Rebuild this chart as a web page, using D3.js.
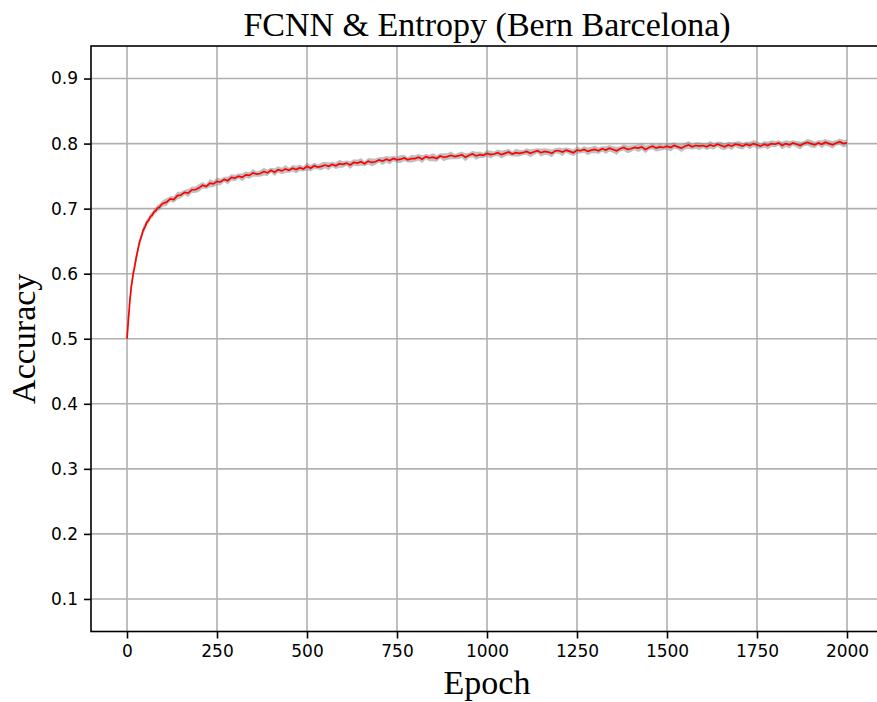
<!DOCTYPE html>
<html>
<head>
<meta charset="utf-8">
<script src="https://cdn.jsdelivr.net/npm/d3@7"></script>
<style>
  body { margin: 0; background: #fff; }
  svg { display: block; }
</style>
</head>
<body>
<svg id="chart" width="877" height="702"></svg>
<script>
// tick labels
let xTicks = [0, 250, 500, 750, 1000, 1250, 1500, 1750, 2000];
let yTicks = [0.1, 0.2, 0.3, 0.4, 0.5, 0.6, 0.7, 0.8, 0.9];

// epochs (dense at the start, then every 10)
let epochs = [0, 2, 4, 6, 8, 10, 12, 15, 18, 20, 25, 30, 35, 40, 45, 50, 55, 60, 65, 70, 75, 80, 85, 90, 95]
    .concat(d3.range(100, 2001, 10));

// mean accuracy
let accuracy = [
    0.500, 0.515, 0.531, 0.544, 0.559, 0.569, 0.581, 0.591, 0.603, 0.607,
    0.623, 0.636, 0.649, 0.657, 0.667, 0.672, 0.679, 0.682, 0.688, 0.690,
    0.695, 0.697, 0.701, 0.702, 0.706,
    0.708, 0.710, 0.715, 0.714, 0.720, 0.721, 0.725, 0.724, 0.729, 0.729,
    0.732, 0.736, 0.734, 0.739, 0.738, 0.742, 0.741, 0.745, 0.743, 0.748,
    0.747, 0.750, 0.748, 0.752, 0.751, 0.755, 0.753, 0.754, 0.757, 0.755,
    0.759, 0.756, 0.760, 0.758, 0.761, 0.759, 0.762, 0.760, 0.763, 0.761,
    0.765, 0.762, 0.766, 0.764, 0.765, 0.767, 0.765, 0.768, 0.766, 0.769,
    0.768, 0.770, 0.767, 0.771, 0.770, 0.772, 0.769, 0.773, 0.771, 0.772,
    0.775, 0.773, 0.776, 0.774, 0.777, 0.775, 0.776, 0.778, 0.775, 0.777,
    0.777, 0.779, 0.776, 0.780, 0.778, 0.779, 0.777, 0.781, 0.779, 0.780,
    0.782, 0.780, 0.781, 0.783, 0.779, 0.782, 0.784, 0.781, 0.783, 0.782,
    0.785, 0.783, 0.784, 0.786, 0.783, 0.785, 0.787, 0.784, 0.786, 0.785,
    0.786, 0.788, 0.785, 0.787, 0.789, 0.786, 0.788, 0.787, 0.785, 0.789,
    0.789, 0.787, 0.790, 0.788, 0.786, 0.790, 0.789, 0.791, 0.788, 0.790,
    0.791, 0.789, 0.792, 0.790, 0.793, 0.791, 0.789, 0.792, 0.794, 0.791,
    0.792, 0.794, 0.793, 0.795, 0.791, 0.794, 0.796, 0.793, 0.795, 0.794,
    0.796, 0.794, 0.797, 0.795, 0.793, 0.796, 0.798, 0.795, 0.797, 0.796,
    0.797, 0.795, 0.798, 0.796, 0.799, 0.797, 0.795, 0.798, 0.796, 0.799,
    0.798, 0.796, 0.799, 0.797, 0.800, 0.798, 0.796, 0.799, 0.797, 0.800,
    0.799, 0.801, 0.797, 0.800, 0.798, 0.801, 0.799, 0.797, 0.800, 0.802,
    0.800, 0.798, 0.801, 0.799, 0.802, 0.800, 0.798, 0.801, 0.803, 0.800, 0.801
];

// spread of the runs (grey band)
let spread = [
    0.004, 0.006, 0.007, 0.007, 0.008, 0.008, 0.008, 0.008, 0.007, 0.007,
    0.007, 0.006, 0.006, 0.006, 0.006, 0.006, 0.005, 0.005, 0.005, 0.005,
    0.005, 0.005, 0.005, 0.005, 0.005,
    0.005, 0.006, 0.004, 0.005, 0.006, 0.005, 0.004, 0.006, 0.005, 0.005,
    0.006, 0.005, 0.004, 0.006, 0.005, 0.006, 0.005, 0.004, 0.006, 0.005,
    0.005, 0.004, 0.006, 0.005, 0.005, 0.006, 0.004, 0.005, 0.006, 0.005,
    0.004, 0.006, 0.005, 0.005, 0.006, 0.004, 0.005, 0.006, 0.005, 0.004,
    0.006, 0.005, 0.005, 0.004, 0.006, 0.005, 0.006, 0.004, 0.005, 0.006,
    0.005, 0.004, 0.006, 0.005, 0.005, 0.006, 0.004, 0.005, 0.006, 0.005,
    0.004, 0.006, 0.005, 0.006, 0.004, 0.005, 0.006, 0.005, 0.004, 0.006,
    0.005, 0.005, 0.006, 0.004, 0.005, 0.006, 0.005, 0.004, 0.006, 0.005,
    0.006, 0.004, 0.005, 0.005, 0.006, 0.004, 0.005, 0.006, 0.005, 0.004,
    0.005, 0.006, 0.004, 0.005, 0.006, 0.005, 0.005, 0.004, 0.006, 0.005,
    0.004, 0.005, 0.006, 0.005, 0.004, 0.006, 0.005, 0.005, 0.006, 0.004,
    0.005, 0.006, 0.004, 0.005, 0.005, 0.006, 0.004, 0.005, 0.006, 0.005,
    0.006, 0.005, 0.004, 0.006, 0.005, 0.005, 0.006, 0.004, 0.005, 0.006,
    0.005, 0.004, 0.006, 0.005, 0.006, 0.004, 0.005, 0.005, 0.006, 0.004,
    0.005, 0.006, 0.005, 0.004, 0.006, 0.005, 0.006, 0.004, 0.005, 0.006,
    0.004, 0.005, 0.006, 0.005, 0.004, 0.006, 0.005, 0.005, 0.006, 0.004,
    0.006, 0.005, 0.004, 0.006, 0.005, 0.006, 0.004, 0.005, 0.006, 0.005,
    0.005, 0.004, 0.006, 0.005, 0.006, 0.004, 0.005, 0.006, 0.004, 0.005,
    0.006, 0.005, 0.004, 0.006, 0.005, 0.005, 0.006, 0.004, 0.005, 0.006, 0.005
];

let data = epochs.map(function(e, i) {
    return { epoch: e, acc: accuracy[i], sd: spread[i] };
});

let svg = d3.select("#chart"),
    pLeft = 91,
    pTop = 46,
    pBottom = 631.5;

let xScale = d3.scaleLinear().domain([-100, 2099]).range([pLeft, pLeft + 2199 * 0.36]),
    yScale = d3.scaleLinear().domain([0.05, 0.95]).range([pBottom, pTop]);

let pRight = xScale.range()[1];

svg.append("clipPath").attr("id", "plot-area")
    .append("rect")
    .attr("x", pLeft).attr("y", pTop)
    .attr("width", pRight - pLeft).attr("height", pBottom - pTop);

// grid
let grid = svg.append("g").attr("stroke", "#b0b0b0").attr("stroke-width", 1.6);
grid.selectAll(".vx").data(xTicks).enter().append("line")
    .attr("x1", function(d) { return xScale(d); })
    .attr("x2", function(d) { return xScale(d); })
    .attr("y1", pTop).attr("y2", pBottom);
grid.selectAll(".hy").data(yTicks).enter().append("line")
    .attr("y1", function(d) { return yScale(d); })
    .attr("y2", function(d) { return yScale(d); })
    .attr("x1", pLeft).attr("x2", pRight);

let plot = svg.append("g").attr("clip-path", "url(#plot-area)");

// band
plot.append("path")
    .datum(data)
    .attr("fill", "#8a8a8a")
    .attr("fill-opacity", 0.55)
    .attr("d", d3.area()
        .x(function(d) { return xScale(d.epoch); })
        .y0(function(d) { return yScale(d.acc - d.sd); })
        .y1(function(d) { return yScale(d.acc + d.sd); }));

// mean line
plot.append("path")
    .datum(data)
    .attr("fill", "none")
    .attr("stroke", "#ff0000")
    .attr("stroke-width", 1.7)
    .attr("d", d3.line()
        .x(function(d) { return xScale(d.epoch); })
        .y(function(d) { return yScale(d.acc); }));

// axes
let xAxis = svg.append("g")
    .attr("transform", "translate(0," + pBottom + ")")
    .call(d3.axisBottom(xScale).tickValues(xTicks).tickSize(7).tickPadding(6).tickFormat(d3.format("d")));
let yAxis = svg.append("g")
    .attr("transform", "translate(" + pLeft + ",0)")
    .call(d3.axisLeft(yScale).tickValues(yTicks).tickSize(7).tickPadding(6).tickFormat(d3.format(".1f")));

[xAxis, yAxis].forEach(function(a) {
    a.select(".domain").remove();
    a.selectAll(".tick line").attr("stroke", "#000").attr("stroke-width", 1.6);
    a.selectAll(".tick text")
        .attr("font-family", "DejaVu Sans")
        .attr("font-size", "17px")
        .attr("fill", "#000");
});

// spines
svg.append("rect")
    .attr("x", pLeft).attr("y", pTop)
    .attr("width", pRight - pLeft).attr("height", pBottom - pTop)
    .attr("fill", "none")
    .attr("stroke", "#000")
    .attr("stroke-width", 1.6);

// titles
svg.append("text")
    .attr("x", 487).attr("y", 36)
    .attr("text-anchor", "middle")
    .attr("font-family", "Liberation Serif")
    .attr("font-size", "34px")
    .text("FCNN & Entropy (Bern Barcelona)");

svg.append("text")
    .attr("x", 487).attr("y", 694)
    .attr("text-anchor", "middle")
    .attr("font-family", "Liberation Serif")
    .attr("font-size", "34px")
    .text("Epoch");

svg.append("text")
    .attr("transform", "translate(35," + yScale(0.5) + ") rotate(-90)")
    .attr("text-anchor", "middle")
    .attr("font-family", "Liberation Serif")
    .attr("font-size", "34px")
    .text("Accuracy");
</script>
</body>
</html>
